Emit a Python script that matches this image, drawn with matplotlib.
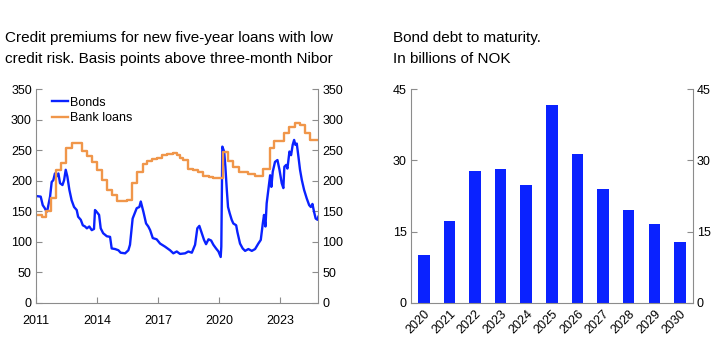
import matplotlib
matplotlib.use("Agg")
import matplotlib.pyplot as plt
import numpy as np

plt.rcParams['font.family'] = ['Liberation Sans', 'DejaVu Sans']

# Credit premiums, basis points above three-month Nibor (decimal years)
bond_t = [2011.00, 2011.23, 2011.33, 2011.43, 2011.52, 2011.56, 2011.69, 2011.77, 2011.85,
          2011.93, 2012.01, 2012.10, 2012.18, 2012.30, 2012.38, 2012.46, 2012.54, 2012.64,
          2012.75, 2012.87, 2013.00, 2013.07, 2013.20, 2013.30, 2013.41, 2013.50, 2013.62,
          2013.74, 2013.85, 2013.90, 2013.98, 2014.10, 2014.18, 2014.30, 2014.48, 2014.64,
          2014.72, 2014.89, 2015.05, 2015.16, 2015.38, 2015.54, 2015.62, 2015.75, 2015.95,
          2016.08, 2016.15, 2016.28, 2016.41, 2016.52, 2016.61, 2016.74, 2016.93, 2017.10,
          2017.34, 2017.59, 2017.75, 2017.92, 2018.08, 2018.33, 2018.49, 2018.66, 2018.82,
          2018.93, 2019.03, 2019.15, 2019.26, 2019.36, 2019.48, 2019.61, 2019.72, 2019.85,
          2019.97, 2020.08, 2020.11, 2020.16, 2020.25, 2020.31, 2020.38, 2020.44, 2020.52,
          2020.62, 2020.70, 2020.84, 2020.90, 2021.03, 2021.16, 2021.28, 2021.44, 2021.61,
          2021.77, 2021.93, 2022.05, 2022.15, 2022.21, 2022.28, 2022.34, 2022.44, 2022.51,
          2022.57, 2022.64, 2022.75, 2022.87, 2022.97, 2023.08, 2023.16, 2023.21, 2023.30,
          2023.36, 2023.46, 2023.54, 2023.62, 2023.69, 2023.75, 2023.82, 2023.90, 2023.98,
          2024.07, 2024.18, 2024.31, 2024.43, 2024.51, 2024.59, 2024.67, 2024.75, 2024.84,
          2024.88]
bond_v = [175, 174, 160, 155, 149, 152, 174, 198, 201, 212, 207, 212, 196, 193, 201, 218,
          207, 185, 168, 157, 152, 141, 136, 127, 125, 122, 125, 119, 121, 152, 149, 144,
          122, 114, 109, 108, 89, 88, 86, 82, 81, 86, 95, 138, 155, 157, 166, 149, 130, 125,
          119, 106, 104, 97, 92, 86, 81, 84, 80, 81, 84, 82, 95, 122, 126, 114, 103, 96, 104,
          102, 95, 89, 84, 75, 92, 256, 248, 223, 185, 157, 147, 136, 130, 127, 116, 97, 89,
          85, 88, 85, 88, 97, 103, 130, 144, 125, 163, 190, 209, 190, 215, 231, 234, 218, 196,
          188, 223, 226, 220, 248, 242, 259, 267, 259, 261, 240, 218, 201, 185, 171, 160, 157,
          162, 149, 138, 136, 141]

loan_t = [2011.00, 2011.28, 2011.49, 2011.72, 2011.98, 2012.21, 2012.48, 2012.75, 2013.25,
          2013.49, 2013.74, 2013.98, 2014.23, 2014.48, 2014.72, 2014.97, 2015.46, 2015.74,
          2015.98, 2016.25, 2016.44, 2016.69, 2016.93, 2017.18, 2017.43, 2017.75, 2017.92,
          2018.08, 2018.25, 2018.49, 2018.74, 2018.98, 2019.23, 2019.48, 2019.72, 2020.21,
          2020.46, 2020.70, 2021.00, 2021.44, 2021.77, 2022.18, 2022.48, 2022.70, 2023.20,
          2023.46, 2023.74, 2023.98, 2024.23, 2024.48, 2024.88]
loan_v = [144, 141, 150, 171, 218, 229, 253, 262, 249, 241, 230, 218, 202, 185, 177, 166, 168,
          196, 215, 228, 233, 235, 238, 242, 244, 246, 242, 238, 234, 220, 217, 214, 207, 206,
          204, 248, 232, 223, 215, 211, 208, 220, 253, 266, 279, 289, 295, 291, 279, 267, 267]

# Bond debt to maturity, billions of NOK
years = ['2020', '2021', '2022', '2023', '2024', '2025', '2026', '2027', '2028', '2029', '2030']
debt = [10.0, 17.2, 27.8, 28.1, 24.8, 41.7, 31.4, 24.0, 19.5, 16.7, 12.9]

BLUE = '#0A22FF'
ORANGE = '#F0964A'
GREY = '#8C8C8C'

fig = plt.figure(figsize=(7.22, 3.54), dpi=100)
ax1 = fig.add_axes([0.0499, 0.1449, 0.3910, 0.6028])
ax2 = fig.add_axes([0.5693, 0.1449, 0.3901, 0.6028])


def style(ax):
    ax.spines['top'].set_visible(False)
    for s in ('left', 'right', 'bottom'):
        ax.spines[s].set_color(GREY)
        ax.spines[s].set_linewidth(0.8)
    ax.tick_params(axis='y', direction='in', left=True, right=True, labelright=True,
                   color=GREY, length=4, labelsize=9, pad=3)
    ax.tick_params(axis='x', direction='in', color=GREY, length=4, labelsize=9)


ax1.plot(bond_t, bond_v, color=BLUE, lw=1.7, label='Bonds')
ax1.step(loan_t, loan_v, where='post', color=ORANGE, lw=1.7, label='Bank loans')
ax1.set_xlim(2011, 2024.88)
ax1.set_ylim(0, 350)
ax1.set_yticks(np.arange(0, 351, 50))
ax1.set_xticks([2011, 2014, 2017, 2020, 2023])
ax1.set_xticklabels(['2011', '2014', '2017', '2020', '2023'])
style(ax1)
ax1.tick_params(axis='x', pad=8.5)
ax1.legend(loc='upper left', bbox_to_anchor=(0.03, 1.0), frameon=False, fontsize=9,
           handlelength=1.3, handletextpad=0.15, labelspacing=0.25, borderaxespad=0.2)

x = np.arange(len(years))
ax2.bar(x, debt, width=0.45, color=BLUE)
ax2.set_xlim(-0.5, len(years) - 0.5)
ax2.set_ylim(0, 45)
ax2.set_yticks([0, 15, 30, 45])
ax2.set_xticks(x)
ax2.set_xticklabels(years, rotation=45, ha='right', rotation_mode='anchor')
style(ax2)
ax2.tick_params(axis='x', length=0, pad=4)

fig.text(5 / 722, 1 - 38 / 354, 'Credit premiums for new five-year loans with low',
         fontsize=11, va='center')
fig.text(5 / 722, 1 - 59 / 354, 'credit risk. Basis points above three-month Nibor',
         fontsize=11, va='center')
fig.text(393 / 722, 1 - 38 / 354, 'Bond debt to maturity.', fontsize=11, va='center')
fig.text(393 / 722, 1 - 59 / 354, 'In billions of NOK', fontsize=11, va='center')

fig.savefig('out.png', dpi=100)
